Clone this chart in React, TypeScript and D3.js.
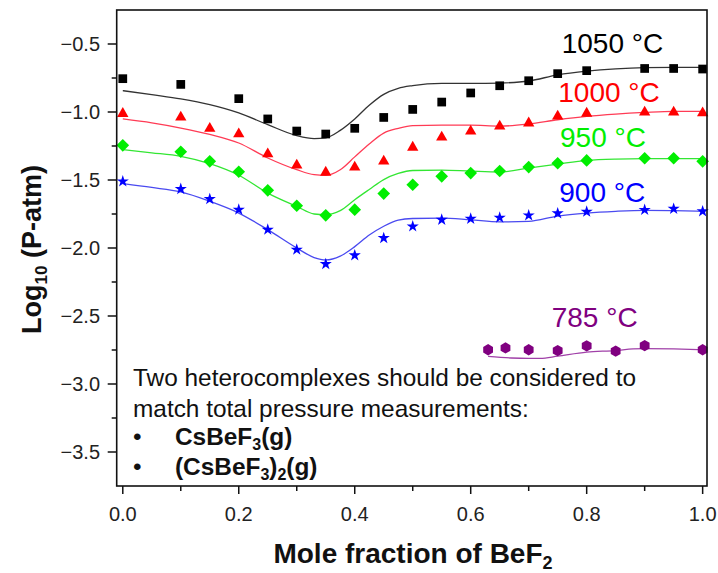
import React from "react";
import * as d3 from "d3";

// ---- Data: log10 vapour pressure (atm) vs mole fraction of BeF2 ----
const xMeas = [0, 0.1, 0.15, 0.2, 0.25, 0.3, 0.35, 0.4, 0.45, 0.5, 0.55, 0.6, 0.65, 0.7, 0.75, 0.8, 0.9, 0.95, 1.0];

const x1050 = [0, 0.1, 0.2, 0.25, 0.3, 0.35, 0.4, 0.45, 0.5, 0.55, 0.6, 0.65, 0.7, 0.75, 0.8, 0.9, 0.95, 1.0];
const y1050 = [-0.755, -0.797, -0.902, -1.051, -1.14, -1.162, -1.12, -1.04, -0.981, -0.927, -0.86, -0.807, -0.77, -0.718, -0.696, -0.68, -0.68, -0.684];

const y1000 = [-1.0, -1.027, -1.11, -1.15, -1.297, -1.38, -1.432, -1.395, -1.35, -1.248, -1.174, -1.13, -1.093, -1.07, -1.02, -0.998, -0.99, -0.99, -0.995];
const y950 = [-1.245, -1.292, -1.363, -1.439, -1.576, -1.689, -1.76, -1.718, -1.6, -1.535, -1.473, -1.449, -1.434, -1.405, -1.377, -1.356, -1.34, -1.34, -1.363];
const y900 = [-1.51, -1.566, -1.64, -1.718, -1.865, -2.012, -2.118, -2.054, -1.927, -1.841, -1.792, -1.785, -1.777, -1.76, -1.745, -1.733, -1.72, -1.712, -1.73];

const x785 = [0.63, 0.66, 0.7, 0.75, 0.8, 0.85, 0.9, 1.0];
const y785 = [-2.748, -2.735, -2.748, -2.755, -2.72, -2.758, -2.718, -2.748];

// ---- Calculated (model) curves ----
const xModel = [0, 0.05, 0.1, 0.15, 0.2, 0.25, 0.3, 0.33, 0.35, 0.375, 0.4, 0.425, 0.45, 0.475, 0.5, 0.55, 0.6, 0.65, 0.7, 0.75, 0.8, 0.85, 0.9, 0.95, 1.0];
const m1050 = [-0.843, -0.873, -0.904, -0.946, -1.007, -1.093, -1.174, -1.196, -1.19, -1.135, -1.051, -0.95, -0.87, -0.826, -0.806, -0.79, -0.79, -0.787, -0.772, -0.727, -0.7, -0.683, -0.674, -0.672, -0.672];
const m1000 = [-1.051, -1.08, -1.118, -1.165, -1.228, -1.338, -1.424, -1.461, -1.466, -1.425, -1.33, -1.235, -1.155, -1.12, -1.1, -1.097, -1.097, -1.104, -1.088, -1.057, -1.032, -1.015, -1.003, -0.995, -0.995];
const m950 = [-1.277, -1.3, -1.326, -1.38, -1.465, -1.596, -1.694, -1.75, -1.755, -1.725, -1.645, -1.57, -1.497, -1.452, -1.43, -1.427, -1.435, -1.441, -1.412, -1.383, -1.356, -1.346, -1.343, -1.343, -1.343];
const m900 = [-1.527, -1.555, -1.588, -1.657, -1.743, -1.865, -2.0, -2.07, -2.088, -2.06, -1.99, -1.905, -1.84, -1.795, -1.783, -1.78, -1.793, -1.808, -1.804, -1.765, -1.743, -1.73, -1.723, -1.725, -1.73];
const xModel785 = [0.63, 0.67, 0.7, 0.72, 0.75, 0.8, 0.85, 0.88, 0.9, 0.95, 1.0];
const m785 = [-2.797, -2.809, -2.812, -2.812, -2.795, -2.765, -2.754, -2.742, -2.74, -2.742, -2.748];

const xTicksMajor = [0, 0.2, 0.4, 0.6, 0.8, 1.0];
const xTicksMinor = [0.1, 0.3, 0.5, 0.7, 0.9];
const yTicksMajor = [-3.5, -3.0, -2.5, -2.0, -1.5, -1.0, -0.5];
const yTicksMinor = [-3.25, -2.75, -2.25, -1.75, -1.25, -0.75];

const W = 718;
const H = 573;
const plot = { left: 116.7, right: 707, top: 10, bottom: 486 };
const FONT = "Arial, 'Liberation Sans', Helvetica, sans-serif";

const x = d3.scaleLinear().domain([-0.0105, 1.0075]).range([plot.left, plot.right]);
const y = d3.scaleLinear().domain([-3.75, -0.25]).range([plot.bottom, plot.top]);

// Custom marker shapes; size is the radius squared
const triangleUp: d3.SymbolType = {
  draw(ctx, size) {
    const r = Math.sqrt(size);
    const h = r * Math.sqrt(3);
    ctx.moveTo(0, -h / 2);
    ctx.lineTo(r, h / 2);
    ctx.lineTo(-r, h / 2);
    ctx.closePath();
  },
};
const diamond: d3.SymbolType = {
  draw(ctx, size) {
    const r = Math.sqrt(size);
    ctx.moveTo(0, -r);
    ctx.lineTo(r, 0);
    ctx.lineTo(0, r);
    ctx.lineTo(-r, 0);
    ctx.closePath();
  },
};
const hexagon: d3.SymbolType = {
  draw(ctx, size) {
    const r = Math.sqrt(size);
    for (let i = 0; i < 6; i++) {
      const a = (Math.PI / 3) * i - Math.PI / 2;
      if (i === 0) ctx.moveTo(r * Math.cos(a), r * Math.sin(a));
      else ctx.lineTo(r * Math.cos(a), r * Math.sin(a));
    }
    ctx.closePath();
  },
};

type Series = {
  xs: number[];
  ys: number[];
  mx: number[];
  my: number[];
  marker: string;
  color: string;
  lineColor: string;
  label: string;
  lx: number;
  ly: number;
};

const series: Series[] = [
  { xs: x1050, ys: y1050, mx: xModel, my: m1050, marker: d3.symbol().type(d3.symbolSquare).size(76)() || "", color: "#000000", lineColor: "#333333", label: "1050 °C", lx: 561.7, ly: 53 },
  { xs: xMeas, ys: y1000, mx: xModel, my: m1000, marker: d3.symbol().type(triangleUp).size(32)() || "", color: "#ff0000", lineColor: "#ff3b55", label: "1000 °C", lx: 558.3, ly: 101.7 },
  { xs: xMeas, ys: y950, mx: xModel, my: m950, marker: d3.symbol().type(diamond).size(40)() || "", color: "#00ee00", lineColor: "#33e633", label: "950 °C", lx: 560, ly: 147.3 },
  { xs: xMeas, ys: y900, mx: xModel, my: m900, marker: d3.symbol().type(d3.symbolStar).size(46)() || "", color: "#0000ff", lineColor: "#4a4af0", label: "900 °C", lx: 559.3, ly: 201.7 },
  { xs: x785, ys: y785, mx: xModel785, my: m785, marker: d3.symbol().type(hexagon).size(32)() || "", color: "#800080", lineColor: "#a040a8", label: "785 °C", lx: 551.7, ly: 326.7 },
];

const line = d3
  .line<[number, number]>()
  .x((d) => x(d[0]))
  .y((d) => y(d[1]))
  .curve(d3.curveMonotoneX);

const fmt = (v: number) => (v < 0 ? "\u2212" : "") + Math.abs(v).toFixed(1);

export default function App() {
  return (
    <svg
      width={W}
      height={H}
      viewBox={`0 0 ${W} ${H}`}
      style={{ position: "absolute", left: 0, top: 0, background: "#ffffff" }}
      fontFamily={FONT}
    >
      <rect x={0} y={0} width={W} height={H} fill="#ffffff" />

      {/* model curves */}
      {series.map((s, i) => (
        <path
          key={`l${i}`}
          d={line(s.mx.map((v, j) => [v, s.my[j]] as [number, number])) || ""}
          fill="none"
          stroke={s.lineColor}
          strokeWidth={1.3}
        />
      ))}

      {/* measured points */}
      {series.map((s, i) => (
        <g key={`p${i}`} fill={s.color}>
          {s.xs.map((v, j) => (
            <path key={j} d={s.marker} transform={`translate(${x(v)},${y(s.ys[j])})`} />
          ))}
        </g>
      ))}

      {/* temperature labels */}
      {series.map((s, i) => (
        <text key={`t${i}`} x={s.lx} y={s.ly} fill={s.color} fontSize={28}>
          {s.label}
        </text>
      ))}

      {/* frame */}
      <rect
        x={plot.left}
        y={plot.top}
        width={plot.right - plot.left}
        height={plot.bottom - plot.top}
        fill="none"
        stroke="#111"
        strokeWidth={1.6}
      />

      {/* x axis ticks */}
      {xTicksMajor.map((t) => (
        <g key={`xm${t}`}>
          <line x1={x(t)} x2={x(t)} y1={plot.bottom} y2={plot.bottom + 8} stroke="#111" strokeWidth={1.5} />
          <text x={x(t)} y={520.5} textAnchor="middle" fontSize={20} fill="#222">
            {t.toFixed(1)}
          </text>
        </g>
      ))}
      {xTicksMinor.map((t) => (
        <line key={`xn${t}`} x1={x(t)} x2={x(t)} y1={plot.bottom} y2={plot.bottom + 5} stroke="#111" strokeWidth={1.5} />
      ))}

      {/* y axis ticks */}
      {yTicksMajor.map((t) => (
        <g key={`ym${t}`}>
          <line x1={plot.left - 9} x2={plot.left} y1={y(t)} y2={y(t)} stroke="#111" strokeWidth={1.5} />
          <text x={100} y={y(t)} dy="0.36em" textAnchor="end" fontSize={20} fill="#222">
            {fmt(t)}
          </text>
        </g>
      ))}
      {yTicksMinor.map((t) => (
        <line key={`yn${t}`} x1={plot.left - 5} x2={plot.left} y1={y(t)} y2={y(t)} stroke="#111" strokeWidth={1.5} />
      ))}

      {/* axis titles */}
      <text x={413} y={563} textAnchor="middle" fontSize={28} fontWeight="bold" fill="#111">
        Mole fraction of BeF
        <tspan fontSize={18} dy={6}>2</tspan>
      </text>
      <text
        transform={`translate(41,249.5) rotate(-90)`}
        textAnchor="middle"
        fontSize={27}
        fontWeight="bold"
        fill="#111"
      >
        Log
        <tspan fontSize={17} dy={6}>10</tspan>
        <tspan dy={-6}> (P-atm)</tspan>
      </text>

      {/* annotation */}
      <g fontSize={24.4} fill="#111">
        <text x={133} y={386}>Two heterocomplexes should be considered to</text>
        <text x={133} y={416.7}>match total pressure measurements:</text>
        <text x={133} y={445}>•</text>
        <text x={133} y={475}>•</text>
        <text x={175} y={445} fontWeight="bold">
          CsBeF<tspan fontSize={16} dy={5}>3</tspan>
          <tspan dy={-5}>(g)</tspan>
        </text>
        <text x={175} y={475} fontWeight="bold">
          (CsBeF<tspan fontSize={16} dy={5}>3</tspan>
          <tspan dy={-5}>)</tspan>
          <tspan fontSize={16} dy={5}>2</tspan>
          <tspan dy={-5}>(g)</tspan>
        </text>
      </g>
    </svg>
  );
}
